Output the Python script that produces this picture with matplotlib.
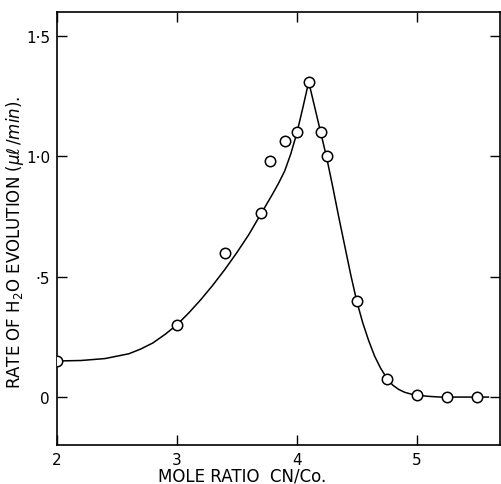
import numpy as np
import matplotlib
matplotlib.use("Agg")
import matplotlib.pyplot as plt

# measured points (mole ratio CN/Co, rate of H2O evolution)
ratio = [2.0, 3.0, 3.4, 3.7, 3.78, 3.9, 4.0, 4.1, 4.2, 4.25, 4.5, 4.75, 5.0, 5.25, 5.5]
rate = [0.15, 0.30, 0.60, 0.765, 0.98, 1.065, 1.10, 1.31, 1.10, 1.0, 0.40, 0.075, 0.01, 0.0, 0.0]

# hand drawn curve
curve_x = [2.0, 2.2, 2.4, 2.6, 2.7, 2.8, 2.9, 3.0, 3.1, 3.2, 3.3, 3.4, 3.5, 3.6, 3.7,
           3.8, 3.85, 3.9, 3.95, 4.0, 4.05, 4.1, 4.15, 4.2, 4.25, 4.3, 4.35, 4.4, 4.45,
           4.5, 4.55, 4.6, 4.65, 4.7, 4.75, 4.8, 4.85, 4.9, 4.95, 5.0, 5.1, 5.2, 5.6]
curve_y = [0.15, 0.152, 0.16, 0.18, 0.20, 0.225, 0.26, 0.30, 0.35, 0.405, 0.465, 0.53,
           0.60, 0.675, 0.76, 0.845, 0.89, 0.94, 1.01, 1.095, 1.20, 1.31, 1.205, 1.10,
           0.995, 0.875, 0.75, 0.63, 0.51, 0.40, 0.31, 0.235, 0.17, 0.12, 0.08, 0.05,
           0.032, 0.02, 0.013, 0.008, 0.003, 0.0, 0.0]

xticks = [2, 3, 4, 5]
yticks = [0, 0.5, 1.0, 1.5]
ytick_labels = ["0", "·5", "1·0", "1·5"]

fig = plt.figure(figsize=(5.02, 4.85), dpi=100)
ax = fig.add_axes([0.1135, 0.080, 0.8835, 0.893])

ax.plot(curve_x, curve_y, color="black", lw=1.1, zorder=2)
ax.plot(ratio, rate, "o", ms=7.5, mfc="white", mec="black", mew=1.1, zorder=3)

ax.set_xlim(2, 5.7)
ax.set_ylim(-0.2, 1.6)
ax.set_xticks(xticks)
ax.set_yticks(yticks)
ax.set_yticklabels(ytick_labels)
ax.tick_params(direction="in", length=7, width=1, top=True, right=True,
               labelsize=11, pad=5)

for s in ax.spines.values():
    s.set_linewidth(1.2)

ax.set_xlabel("MOLE RATIO  CN/Co.", fontsize=12)
ax.xaxis.set_label_coords(0.417, -0.05)
ax.set_ylabel(r"RATE OF H$_2$O EVOLUTION $(\mu\ell\,/min)$.", fontsize=12)
ax.yaxis.set_label_coords(-0.07, 0.47)

plt.savefig("out.png", dpi=100)
